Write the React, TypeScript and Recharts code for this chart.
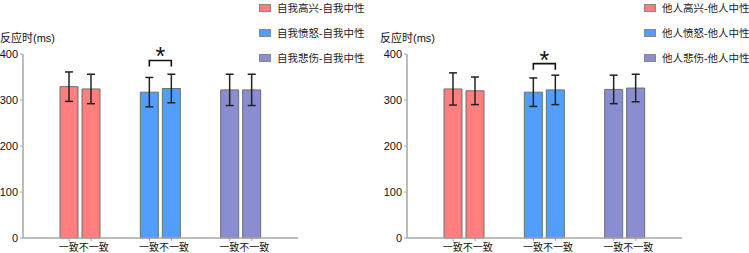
import React from 'react';
import { BarChart, Bar, XAxis, YAxis, ErrorBar, Cell, Rectangle } from 'recharts';

const categories = ['高兴', '愤怒', '悲伤'];
const conditionLabels = ['一致', '不一致'];
const significant = [false, true, false];
const yTicks = [0, 100, 200, 300, 400];
const colors = ['#FF7F7F', '#529EFF', '#8A8ED0'];

const selfConsistent = [329, 317, 322];
const selfConsistentErr = [32, 32, 34];
const selfInconsistent = [324, 325, 322];
const selfInconsistentErr = [32, 31, 34];
const selfLegend = ['自我高兴-自我中性', '自我愤怒-自我中性', '自我悲伤-自我中性'];

const otherConsistent = [324, 317, 323];
const otherConsistentErr = [35, 31, 31];
const otherInconsistent = [320, 322, 326];
const otherInconsistentErr = [30, 32, 30];
const otherLegend = ['他人高兴-他人中性', '他人愤怒-他人中性', '他人悲伤-他人中性'];

const FONT = "'Liberation Sans', Arial, 'Noto Sans CJK SC', sans-serif";
const BAR_SIZE = 18;
const BAR_GAP = 4;

function buildRows(c: number[], ce: number[], n: number[], ne: number[]) {
  return categories.map((cat, i) => ({
    cat,
    consistent: c[i],
    consistentErr: ce[i],
    inconsistent: n[i],
    inconsistentErr: ne[i],
    sig: significant[i],
  }));
}

const XTick = (props: any) => {
  const { x, y } = props;
  const off = (BAR_SIZE + BAR_GAP) / 2;
  const join = x - 1.5;
  return (
    <g>
      <line x1={x - off} y1={y} x2={x - off} y2={y + 3} stroke="#9a9a9a" strokeWidth={1} />
      <line x1={x + off} y1={y} x2={x + off} y2={y + 3} stroke="#9a9a9a" strokeWidth={1} />
      <text x={join} y={y + 12.5} textAnchor="end" fontSize={10} fill="#111" fontFamily={FONT}>
        {conditionLabels[0]}
      </text>
      <text x={join} y={y + 12.5} textAnchor="start" fontSize={10} fill="#111" fontFamily={FONT}>
        {conditionLabels[1]}
      </text>
    </g>
  );
};

function makeSigShape(bracketValue: number) {
  return (props: any) => {
    const { x, y, width, height, payload, fill } = props;
    const rect = (
      <Rectangle x={x} y={y} width={width} height={height} fill={fill} stroke="#6e6e6e" strokeWidth={1} />
    );
    if (!payload || !payload.sig) return rect;
    const base = y + height;
    const k = height / payload.inconsistent;
    const yb = base - bracketValue * k;
    const x2 = x + width / 2;
    const x1 = x2 - (width + BAR_GAP);
    return (
      <g>
        {rect}
        <path d={`M${x1},${yb + 6} L${x1},${yb} L${x2},${yb} L${x2},${yb + 6}`} fill="none" stroke="#111" strokeWidth={1.6} />
        <text x={(x1 + x2) / 2} y={yb + 5} textAnchor="middle" fontSize={25} fill="#111" fontFamily={FONT}>*</text>
      </g>
    );
  };
}

type PanelProps = {
  left: number;
  width: number;
  yAxisWidth: number;
  marginRight: number;
  rows: any[];
  legend: string[];
  legendX: number;
  labelX: number;
  bracketValue: number;
};

function Panel({ left, width, yAxisWidth, marginRight, rows, legend, legendX, labelX, bracketValue }: PanelProps) {
  return (
    <div style={{ position: 'absolute', left, top: 0, width, height: 253 }}>
      <BarChart
        width={width}
        height={253}
        data={rows}
        margin={{ top: 54, right: marginRight, bottom: 0, left: 0 }}
        barSize={BAR_SIZE}
        barGap={BAR_GAP}
        style={{ overflow: 'visible' }}
      >
        <XAxis
          dataKey="cat"
          height={15}
          interval={0}
          padding={{ left: 17, right: 17 }}
          axisLine={{ stroke: '#a6a6a6', strokeWidth: 1.5 }}
          tickLine={false}
          tickSize={0}
          tickMargin={0}
          tick={<XTick />}
        />
        <YAxis
          width={yAxisWidth}
          domain={[0, 400]}
          ticks={yTicks}
          interval={0}
          axisLine={{ stroke: '#a6a6a6', strokeWidth: 1.5 }}
          tickLine={{ stroke: '#a6a6a6' }}
          tickSize={3}
          tick={{ fontSize: 11, fill: '#111', fontFamily: FONT }}
          label={({ viewBox }: any) => (
            <text x={labelX} y={viewBox.y - 12} fontSize={11} fill="#111" fontFamily={FONT}>
              反应时(ms)
            </text>
          )}
        />
        <Bar dataKey="consistent" isAnimationActive={false} stroke="#6e6e6e" strokeWidth={1}>
          {rows.map((r, i) => (
            <Cell key={r.cat} fill={colors[i]} />
          ))}
          <ErrorBar dataKey="consistentErr" width={4} stroke="#222" strokeWidth={1.5} direction="y" />
        </Bar>
        <Bar dataKey="inconsistent" isAnimationActive={false} stroke="#6e6e6e" strokeWidth={1} shape={makeSigShape(bracketValue)}>
          {rows.map((r, i) => (
            <Cell key={r.cat} fill={colors[i]} />
          ))}
          <ErrorBar dataKey="inconsistentErr" width={4} stroke="#222" strokeWidth={1.5} direction="y" />
        </Bar>
      </BarChart>
      <div style={{ position: 'absolute', left: legendX, top: 0, fontFamily: FONT, fontSize: 10.5, color: '#222' }}>
        {legend.map((t, i) => (
          <div key={t} style={{ position: 'absolute', left: 0, top: i * 25, height: 15, display: 'flex', alignItems: 'center', whiteSpace: 'nowrap' }}>
            <span style={{ display: 'inline-block', width: 10, height: 6, background: colors[i], border: '1px solid #888', marginRight: 6 }} />
            <span>{t}</span>
          </div>
        ))}
      </div>
    </div>
  );
}

export default function App() {
  const selfRows = buildRows(selfConsistent, selfConsistentErr, selfInconsistent, selfInconsistentErr);
  const otherRows = buildRows(otherConsistent, otherConsistentErr, otherInconsistent, otherInconsistentErr);
  return (
    <div style={{ position: 'absolute', left: 0, top: 0, width: 749, height: 253, background: '#fff', overflow: 'hidden' }}>
      <Panel left={0} width={375} yAxisWidth={23} marginRight={77} rows={selfRows} legend={selfLegend} legendX={259} labelX={0} bracketValue={386} />
      <Panel left={375} width={374} yAxisWidth={32} marginRight={67} rows={otherRows} legend={otherLegend} legendX={269} labelX={5} bracketValue={379} />
    </div>
  );
}
